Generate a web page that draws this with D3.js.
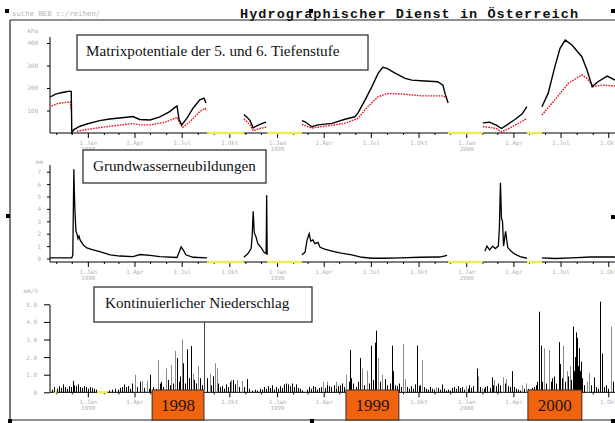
<!DOCTYPE html>
<html>
<head>
<meta charset="utf-8">
<script src="https://cdn.jsdelivr.net/npm/d3@7"></script>
<style>
  body { margin: 0; background: #fff; }
  svg { display: block; }
</style>
</head>
<body>
<svg id="chart" width="615" height="423"></svg>
<script>
// ---- time axis ticks --------------------------------------------------------
const quarterTicks = ["1998-01-01","1998-04-01","1998-07-01","1998-10-01",
                      "1999-01-01","1999-04-01","1999-07-01","1999-10-01",
                      "2000-01-01","2000-04-01","2000-07-01","2000-10-01"];
const quarterLabels = ["1.Jan","1.Apr","1.Jul","1.Okt"];
const monthTicks = ["1997-11-01","1997-12-01","1998-02-01","1998-03-01","1998-05-01","1998-06-01",
                    "1998-08-01","1998-09-01","1998-11-01","1998-12-01","1999-02-01","1999-03-01",
                    "1999-05-01","1999-06-01","1999-08-01","1999-09-01","1999-11-01","1999-12-01",
                    "2000-02-01","2000-03-01","2000-05-01","2000-06-01","2000-08-01","2000-09-01"];

// ---- Matrixpotential (kPa), 5. and 6. Tiefenstufe; null = no record -------
const suction5 = [
  ["1997-10-20",160],["1997-10-30",172],["1997-11-08",178],["1997-11-18",182],["1997-11-27",186],["1997-11-30",184],
  ["1997-12-01",2],["1997-12-05",15],["1997-12-17",30],["1997-12-30",40],["1998-01-24",55],["1998-02-12",62],
  ["1998-03-17",70],["1998-03-29",73],["1998-04-11",60],["1998-05-01",58],["1998-05-20",72],["1998-06-08",95],
  ["1998-06-18",114],["1998-06-22",120],["1998-06-26",60],["1998-07-01",36],["1998-07-11",65],["1998-07-23",110],
  ["1998-08-05",147],["1998-08-13",155],["1998-08-17",133],
  ["1998-09-01",null],
  ["1998-10-29",82],["1998-11-04",70],["1998-11-10",55],["1998-11-16",22],["1998-11-21",30],["1998-11-29",38],
  ["1998-12-05",44],["1998-12-11",48],
  ["1999-01-01",null],
  ["1999-02-18",55],["1999-02-24",50],["1999-03-09",28],["1999-03-21",36],["1999-04-17",43],["1999-05-12",61],
  ["1999-05-31",72],["1999-06-06",88],["1999-06-20",147],["1999-07-03",206],["1999-07-15",265],["1999-07-24",292],
  ["1999-08-01",287],["1999-08-16",267],["1999-09-05",243],["1999-09-18",235],["1999-10-13",231],["1999-11-07",228],
  ["1999-11-17",213],["1999-11-21",176],["1999-11-27",133],
  ["2000-01-01",null],
  ["2000-02-02",45],["2000-02-15",48],["2000-02-28",35],["2000-03-09",20],["2000-03-19",35],["2000-04-04",60],
  ["2000-04-18",85],["2000-04-27",117],
  ["2000-05-10",null],
  ["2000-05-26",117],["2000-06-07",176],["2000-06-20",295],["2000-06-30",376],["2000-07-10",413],["2000-07-23",391],
  ["2000-08-11",339],["2000-08-21",280],["2000-08-31",206],["2000-09-11",228],["2000-09-29",253],["2000-10-14",235]
];
const suction6 = [
  ["1997-10-23",120],["1997-11-05",132],["1997-11-28",138],["1997-11-30",100],
  ["1997-12-05",null],
  ["1997-12-11",8],["1998-01-05",18],["1998-02-12",30],["1998-03-29",42],["1998-04-11",36],["1998-05-01",36],
  ["1998-05-30",48],["1998-06-14",62],["1998-06-22",70],["1998-06-28",40],["1998-07-03",25],["1998-07-17",50],
  ["1998-08-05",95],["1998-08-15",110],["1998-08-19",100],
  ["1998-09-01",null],
  ["1998-10-29",62],["1998-11-04",50],["1998-11-10",35],["1998-11-16",10],["1998-11-21",14],["1998-11-29",20],
  ["1998-12-11",26],
  ["1999-01-01",null],
  ["1999-02-18",38],["1999-03-09",22],["1999-04-03",30],["1999-05-12",43],["1999-06-06",65],["1999-06-25",117],
  ["1999-07-15",161],["1999-08-03",176],["1999-09-05",172],["1999-10-07",165],["1999-11-15",165],["1999-11-21",161],
  ["2000-01-01",null],
  ["2000-02-02",28],["2000-02-15",25],["2000-02-28",20],["2000-03-09",5],["2000-03-19",15],["2000-04-04",35],
  ["2000-04-18",52],["2000-04-27",65],
  ["2000-05-10",null],
  ["2000-05-26",80],["2000-06-20",147],["2000-07-16",221],["2000-08-11",258],["2000-08-21",243],["2000-09-02",206],
  ["2000-09-19",213],["2000-10-14",209]
];

// ---- Grundwasserneubildung (mm) --------------------------------------------
const recharge = [
  ["1997-10-20",0.05],["1997-12-01",0.05],["1997-12-03",0.3],["1997-12-05",7.2],["1997-12-06",5.3],["1997-12-07",4.0],
  ["1997-12-09",2.2],["1997-12-11",2.0],["1997-12-13",1.6],["1997-12-15",1.8],["1997-12-17",1.5],["1997-12-23",1.1],
  ["1997-12-30",0.85],["1998-01-11",0.7],["1998-01-24",0.55],["1998-02-13",0.3],["1998-03-04",0.2],["1998-03-29",0.15],
  ["1998-04-12",0.32],["1998-05-01",0.25],["1998-05-20",0.15],["1998-06-22",0.08],["1998-06-26",0.5],["1998-06-30",0.93],
  ["1998-07-04",0.7],["1998-07-09",0.3],["1998-07-23",0.1],["1998-08-19",0.05],
  ["1998-09-01",null],
  ["1998-10-29",0.1],["1998-11-06",0.4],["1998-11-12",0.8],["1998-11-14",1.8],["1998-11-16",3.8],["1998-11-18",2.1],
  ["1998-11-21",1.8],["1998-11-25",1.2],["1998-12-01",0.9],["1998-12-07",0.5],["1998-12-11",0.4],["1998-12-12",5.1],
  ["1998-12-13",0.3],
  ["1999-01-01",null],
  ["1999-02-18",0.3],["1999-02-24",0.5],["1999-02-28",1.5],["1999-03-04",2.0],["1999-03-07",1.4],["1999-03-11",1.5],
  ["1999-03-15",1.2],["1999-03-21",1.3],["1999-03-25",0.9],["1999-04-03",0.75],["1999-04-17",0.6],["1999-05-02",0.45],
  ["1999-05-25",0.3],["1999-06-14",0.1],["1999-07-03",0.02],["1999-07-28",0.02],["1999-08-26",0.05],["1999-10-04",0.1],
  ["1999-11-11",0.12],["1999-11-25",0.25],
  ["2000-01-01",null],
  ["2000-02-06",0.6],["2000-02-10",1.0],["2000-02-15",0.7],["2000-02-21",1.0],["2000-02-26",0.8],["2000-03-03",1.0],
  ["2000-03-05",2.5],["2000-03-07",6.1],["2000-03-09",3.2],["2000-03-11",3.0],["2000-03-13",1.0],["2000-03-17",2.2],
  ["2000-03-21",0.9],["2000-03-27",0.6],["2000-04-04",0.35],["2000-04-14",0.15],["2000-04-27",0.02],
  ["2000-05-10",null],
  ["2000-05-26",0.05],["2000-06-20",0],["2000-07-23",0.05],["2000-08-27",0.12],["2000-10-14",0.12]
];

// ---- Kontinuierlicher Niederschlag (mm/h) ----------------------------------
const rainBlack = [
  ["1997-10-24",0.15],["1997-10-28",0.3],["1997-11-02",0.2],["1997-11-06",0.35],["1997-11-10",0.25],["1997-11-14",0.45],
  ["1997-11-18",0.3],["1997-11-22",0.2],["1997-11-26",0.35],["1997-11-29",0.3],["1997-12-03",0.65],["1997-12-05",0.4],
  ["1997-12-09",0.35],["1997-12-13",0.45],["1997-12-17",0.3],["1997-12-21",0.25],["1997-12-25",0.35],["1997-12-28",0.3],
  ["1998-01-01",0.2],["1998-01-05",0.3],["1998-01-09",0.25],["1998-01-13",0.2],["1998-01-17",0.15],
  ["1998-02-11",0.1],["1998-02-17",0.15],["1998-02-22",0.2],["1998-02-28",0.15],["1998-03-04",0.25],["1998-03-08",0.3],
  ["1998-03-12",0.45],["1998-03-16",0.3],["1998-03-19",0.35],["1998-03-23",0.2],["1998-03-27",0.5],["1998-04-06",0.3],
  ["1998-04-12",0.6],["1998-04-19",0.25],["1998-04-29",0.2],["1998-05-01",1.0],["1998-05-07",0.3],["1998-05-12",0.2],
  ["1998-05-20",0.5],["1998-05-22",0.6],["1998-05-26",0.3],["1998-06-05",0.7],["1998-06-08",0.4],["1998-06-14",0.5],
  ["1998-06-22",1.95],["1998-06-26",0.6],["1998-06-28",0.9],["1998-07-03",1.65],["1998-07-07",0.5],["1998-07-11",2.44],
  ["1998-07-15",0.8],["1998-07-19",2.63],["1998-07-25",0.7],["1998-07-29",0.5],["1998-08-05",0.8],["1998-08-09",0.4],
  ["1998-08-19",0.8],["1998-08-27",0.4],["1998-08-30",0.9],["1998-09-09",0.5],["1998-09-13",0.3],["1998-09-17",0.35],
  ["1998-09-21",0.2],["1998-09-24",0.45],["1998-09-28",0.3],["1998-10-02",0.6],["1998-10-08",0.7],["1998-10-12",0.45],
  ["1998-10-19",0.3],["1998-10-29",0.3],["1998-11-04",0.75],["1998-11-08",0.2],["1998-11-14",0.1],["1998-11-19",0.15],
  ["1998-11-23",0.1],["1998-11-29",0.2],["1998-12-03",0.15],["1998-12-07",0.3],["1998-12-11",0.2],["1998-12-15",0.35],
  ["1998-12-18",0.25],["1998-12-22",0.4],["1998-12-26",0.15],["1998-12-30",0.3],["1999-01-03",0.2],["1999-01-07",0.35],
  ["1999-01-10",0.25],["1999-01-14",0.45],["1999-01-18",0.5],["1999-01-22",0.45],["1999-01-26",0.35],["1999-01-30",0.5],
  ["1999-02-03",0.3],["1999-02-06",0.45],["1999-02-10",0.25],["1999-02-14",0.2],["1999-02-18",0.1],
  ["1999-02-28",0.15],["1999-03-04",0.3],["1999-03-07",0.2],["1999-03-11",0.35],["1999-03-15",0.3],["1999-03-19",0.15],
  ["1999-03-23",0.25],["1999-03-27",0.3],["1999-04-03",0.25],["1999-04-07",0.4],["1999-04-12",0.35],["1999-04-16",0.3],
  ["1999-04-20",0.4],["1999-04-24",0.2],["1999-04-29",0.35],["1999-05-03",0.4],["1999-05-07",0.5],["1999-05-11",0.3],
  ["1999-05-19",0.6],["1999-05-22",2.4],["1999-05-24",0.8],["1999-05-28",0.5],["1999-06-02",0.3],["1999-06-06",0.6],
  ["1999-06-10",1.95],["1999-06-18",0.4],["1999-06-27",0.5],["1999-07-01",2.65],["1999-07-05",0.7],["1999-07-09",2.82],
  ["1999-07-11",3.5],["1999-07-18",0.6],["1999-07-28",0.75],["1999-08-01",0.4],["1999-08-06",0.5],["1999-08-10",2.65],
  ["1999-08-12",1.2],["1999-08-16",0.4],["1999-08-20",0.35],["1999-08-24",0.5],["1999-08-28",0.3],["1999-09-09",0.3],
  ["1999-09-13",0.2],["1999-09-16",0.35],["1999-09-20",0.2],["1999-09-24",0.45],["1999-09-28",2.65],["1999-10-02",0.35],
  ["1999-10-04",0.4],["1999-10-12",0.3],["1999-10-16",0.2],["1999-10-19",0.15],["1999-10-23",0.3],["1999-10-27",0.2],
  ["1999-10-31",0.15],["1999-11-07",0.25],["1999-11-11",0.15],["1999-11-15",0.45],["1999-11-19",0.2],["1999-11-23",0.1],
  ["1999-11-27",0.15],["1999-12-01",0.1],["1999-12-04",0.25],["1999-12-08",0.3],["1999-12-12",0.2],["1999-12-16",0.35],
  ["1999-12-20",0.25],["1999-12-24",0.3],["1999-12-28",0.15],["2000-01-04",0.2],["2000-01-07",0.4],["2000-01-11",0.25],
  ["2000-01-15",0.35],["2000-01-21",1.35],["2000-01-27",0.3],["2000-02-04",0.2],["2000-02-07",0.3],["2000-02-11",0.35],
  ["2000-02-15",0.25],["2000-02-19",0.85],["2000-02-22",0.4],["2000-02-28",0.35],["2000-03-03",0.5],["2000-03-07",0.4],
  ["2000-03-15",0.5],["2000-03-21",0.35],["2000-03-25",0.3],["2000-03-29",1.2],["2000-04-02",0.3],["2000-04-06",0.2],
  ["2000-04-10",0.15],["2000-04-14",0.1],["2000-04-22",0.2],["2000-04-29",0.2],["2000-05-03",0.15],["2000-05-07",0.25],
  ["2000-05-11",0.3],["2000-05-15",0.4],["2000-05-16",0.6],["2000-05-20",4.58],["2000-05-24",2.65],["2000-05-26",0.6],
  ["2000-06-03",0.5],["2000-06-13",0.6],["2000-06-14",0.8],["2000-06-18",0.9],["2000-06-22",0.5],["2000-06-28",2.85],
  ["2000-06-30",1.6],["2000-07-04",0.8],["2000-07-10",0.6],["2000-07-16",0.9],["2000-07-21",0.7],["2000-07-25",3.73],
  ["2000-07-27",1.2],["2000-07-29",2.0],["2000-07-31",3.4],["2000-08-02",3.1],["2000-08-04",1.5],["2000-08-06",2.5],
  ["2000-08-07",1.2],["2000-08-09",1.75],["2000-08-11",0.8],["2000-08-15",0.4],["2000-08-29",0.4],["2000-09-04",0.85],
  ["2000-09-07",0.3],["2000-09-11",0.2],["2000-09-15",5.15],["2000-09-19",2.2],["2000-09-23",0.3],["2000-09-26",0.4],
  ["2000-09-30",0.2],["2000-10-10",0.6]
];
const rainGray = [
  ["1998-04-02",1.0],["1998-04-15",0.65],["1998-04-25",0.65],["1998-05-16",1.85],["1998-06-01",1.36],["1998-06-10",1.55],
  ["1998-06-18",2.35],["1998-07-02",3.0],["1998-07-23",1.05],["1998-08-01",1.5],["1998-08-25",1.05],["1998-09-03",1.65],
  ["1998-09-07",1.36],["1998-10-04",0.7],["1998-10-16",0.7],["1998-10-25",0.65],["1999-03-31",0.6],["1999-04-08",0.6],
  ["1999-04-25",0.6],["1999-05-15",1.0],["1999-06-14",1.36],["1999-06-24",1.23],["1999-07-15",1.95],["1999-07-22",1.0],
  ["1999-09-01",2.75],["1999-09-05",0.75],["1999-10-08",1.85],["1999-11-04",0.3],["1999-12-31",0.35],["2000-01-23",0.9],
  ["2000-01-31",0.25],["2000-02-24",0.7],["2000-03-11",0.85],["2000-03-17",0.75],["2000-04-18",0.4],["2000-04-25",0.5],
  ["2000-05-30",2.5],["2000-06-09",2.4],["2000-07-06",2.65],["2000-07-14",1.2],["2000-07-19",1.5],["2000-08-21",0.6],
  ["2000-08-25",1.1],["2000-10-06",3.73]
];

// ---- periods without record (marked yellow on the time axis) ---------------
const soilGaps = [["1998-08-19","1998-10-29"],["1998-12-13","1999-02-18"],["1999-11-27","2000-02-02"],["2000-04-27","2000-05-26"]];
const rainGaps = [["1997-10-27","1997-11-02"],["1998-01-19","1998-02-08"]];

// ---- summer periods highlighted below the precipitation axis --------------
const yearNames = ["1998","1999","2000"];
const yearSpans = [["1998-05-05","1998-08-13"],["1999-05-14","1999-08-24"],["2000-04-29","2000-08-11"]];

// ---- tick values of the value axes -----------------------------------------
const suctionTicks = [100,200,300,400];
const rechargeTicks = [0,1,2,3,4,5,6,7];
const rainTicks = [0,1,2,3,4,5];

// ============================================================================
const parse = d3.timeParse("%Y-%m-%d");
const svg = d3.select("#chart");
const tickGray = "#b3b3b3";
const monoFont = "'DejaVu Sans Mono', 'Liberation Mono', monospace";
const serifFont = "'Liberation Serif', 'DejaVu Serif', serif";

const x = d3.scaleTime()
  .domain([parse("1997-10-20"), parse("2000-10-14")])
  .range([50, 615]);

const ySuction = d3.scaleLinear().domain([0, 400]).range([133, 43]);
const yRecharge = d3.scaleLinear().domain([0, 7]).range([258.5, 171.7]);
const yRain = d3.scaleLinear().domain([0, 5]).range([392.3, 304.3]);

const toPts = arr => arr.map(d => [parse(d[0]), d[1]]);
const spanPx = yearSpans.map(s => [x(parse(s[0])), x(parse(s[1]))]);

// ---- page frame and header --------------------------------------------------
const frame = svg.append("g");
frame.append("line").attr("x1", 10).attr("x2", 615).attr("y1", 20).attr("y2", 20)
  .attr("stroke", "#222").attr("stroke-width", 1.2);
frame.append("line").attr("x1", 10).attr("x2", 10).attr("y1", 20).attr("y2", 420)
  .attr("stroke", "#222").attr("stroke-width", 1.2);
frame.append("line").attr("x1", 10).attr("x2", 615).attr("y1", 420).attr("y2", 420)
  .attr("stroke", "#222").attr("stroke-width", 1.2);

svg.append("text").attr("x", 12).attr("y", 16)
  .attr("font-family", monoFont).attr("font-size", 7)
  .attr("textLength", 88).attr("lengthAdjust", "spacingAndGlyphs")
  .attr("fill", "#b5b5b5").text("suche NEB c:/reihen/");

svg.append("text").attr("x", 240).attr("y", 17.5)
  .attr("font-family", "'Liberation Mono', 'DejaVu Sans Mono', monospace")
  .attr("font-weight", "bold").attr("font-size", 13.5)
  .attr("textLength", 338).attr("lengthAdjust", "spacing")
  .attr("fill", "#111").text("Hydrographischer Dienst in Österreich");

// ---- time axis helper -------------------------------------------------------
function timeAxis(yPos, gaps, hideUnderBoxes) {
  const g = svg.append("g").attr("transform", `translate(0,${yPos})`);
  g.append("line").attr("x1", 50).attr("x2", 615).attr("y1", 0).attr("y2", 0)
    .attr("stroke", "#000").attr("stroke-width", 1);
  const minor = g.append("g").call(d3.axisBottom(x)
    .tickValues(monthTicks.map(parse)).tickSize(2).tickSizeOuter(0).tickFormat(""));
  minor.select(".domain").remove();
  minor.selectAll(".tick line").attr("stroke", "#000");
  const major = g.append("g").call(d3.axisBottom(x)
    .tickValues(quarterTicks.map(parse)).tickSize(5).tickSizeOuter(0).tickFormat(""));
  major.select(".domain").remove();
  major.selectAll(".tick line").attr("stroke", "#000");
  major.selectAll(".tick").each(function (d, i) {
    const px = x(d);
    // labels lying beneath a summer box are covered by it
    if (hideUnderBoxes && spanPx.some(s => px > s[0] - 12 && px < s[1] + 12)) return;
    d3.select(this).append("text")
      .attr("y", 11.5).attr("text-anchor", "middle")
      .attr("font-family", monoFont).attr("font-size", 5.8).attr("fill", tickGray)
      .text(quarterLabels[i % 4]);
    if (i % 4 === 0) {
      d3.select(this).append("text")
        .attr("y", 18.2).attr("text-anchor", "middle")
        .attr("font-family", monoFont).attr("font-size", 5.8).attr("fill", tickGray)
        .text(d.getFullYear());
    }
  });
  g.selectAll(".gap").data(gaps).join("line").attr("class", "gap")
    .attr("x1", d => x(parse(d[0]))).attr("x2", d => x(parse(d[1])))
    .attr("y1", 0).attr("y2", 0)
    .attr("stroke", "#eded5a").attr("stroke-width", 2.5);
  return g;
}

function valueAxis(scale, ticks, top, bottom, tickLen, pad, fmt, unit, unitX, unitY) {
  const g = svg.append("g").attr("transform", "translate(50,0)");
  g.append("line").attr("x1", 0).attr("x2", 0).attr("y1", top).attr("y2", bottom)
    .attr("stroke", "#000").attr("stroke-width", 1);
  const ax = g.append("g").call(d3.axisLeft(scale).tickValues(ticks)
    .tickSize(tickLen).tickPadding(pad).tickSizeOuter(0).tickFormat(fmt));
  ax.select(".domain").remove();
  ax.selectAll(".tick line").attr("stroke", "#000");
  ax.selectAll(".tick text").attr("font-family", monoFont).attr("font-size", 6)
    .attr("fill", tickGray);
  svg.append("text").attr("x", unitX).attr("y", unitY).attr("text-anchor", "end")
    .attr("font-family", monoFont).attr("font-size", 6).attr("fill", tickGray).text(unit);
}

// ---- panel 1: Matrixpotentiale ---------------------------------------------
valueAxis(ySuction, suctionTicks, 37, 133, 3, 9, d3.format("d"), "kPa", 38, 33);
timeAxis(133, soilGaps, false);

const lineSuction = d3.line()
  .defined(d => d[1] !== null)
  .x(d => x(d[0])).y(d => ySuction(d[1]));

svg.append("path").datum(toPts(suction6))
  .attr("d", lineSuction).attr("fill", "none")
  .attr("stroke", "#e3141e").attr("stroke-width", 1.4)
  .attr("stroke-dasharray", "1.6,1.1");
svg.append("path").datum(toPts(suction5))
  .attr("d", lineSuction).attr("fill", "none")
  .attr("stroke", "#000").attr("stroke-width", 1.4);

// ---- panel 2: Grundwasserneubildungen --------------------------------------
valueAxis(yRecharge, rechargeTicks, 165, 262, 3, 6, d3.format("d"), "mm", 43, 164);
timeAxis(262, soilGaps, false);

const lineRecharge = d3.line()
  .defined(d => d[1] !== null)
  .x(d => x(d[0])).y(d => yRecharge(d[1]));
svg.append("path").datum(toPts(recharge))
  .attr("d", lineRecharge).attr("fill", "none")
  .attr("stroke", "#000").attr("stroke-width", 1.3);

// ---- panel 3: Kontinuierlicher Niederschlag --------------------------------
valueAxis(yRain, rainTicks, 305, 392.3, 6, 7, d => d === 0 ? "0" : d3.format(".1f")(d), "mm/h", 38, 293);
timeAxis(392.3, rainGaps, true);

function rainBars(data, colour) {
  svg.append("g").selectAll("line").data(toPts(data)).join("line")
    .attr("x1", d => Math.round(x(d[0])) + 0.5).attr("x2", d => Math.round(x(d[0])) + 0.5)
    .attr("y1", yRain(0)).attr("y2", d => yRain(d[1]))
    .attr("stroke", colour).attr("stroke-width", 1);
}
rainBars(rainGray, "#8a8a8a");
rainBars(rainBlack, "#000");

// ---- annotation boxes -------------------------------------------------------
function labelBox(x0, y0, x1, y1, tx, ty, text) {
  svg.append("rect").attr("x", x0).attr("y", y0).attr("width", x1 - x0).attr("height", y1 - y0)
    .attr("fill", "#fff").attr("stroke", "#333").attr("stroke-width", 1.3);
  svg.append("text").attr("x", tx).attr("y", ty)
    .attr("font-family", serifFont).attr("font-size", 15.2).attr("fill", "#111").text(text);
}
labelBox(77, 35, 368, 70, 86, 56, "Matrixpotentiale der 5. und 6. Tiefenstufe");
labelBox(83, 150, 266, 183, 93, 171, "Grundwasserneubildungen");
labelBox(94, 287, 312, 322, 105, 308, "Kontinuierlicher Niederschlag");

// connector from the precipitation label to the 1998 period box
const connX = Math.round(spanPx[0][1]) + 0.5;
svg.append("line").attr("x1", connX).attr("x2", connX).attr("y1", 322).attr("y2", 390)
  .attr("stroke", "#444").attr("stroke-width", 1);

// summer period boxes
const yearG = svg.append("g");
yearG.selectAll("rect").data(spanPx).join("rect")
  .attr("x", d => d[0]).attr("y", 390)
  .attr("width", d => d[1] - d[0]).attr("height", 30)
  .attr("fill", "#f0640f").attr("stroke", "#3a2a22").attr("stroke-width", 1);
yearG.selectAll("text").data(spanPx).join("text")
  .attr("x", d => (d[0] + d[1]) / 2).attr("y", 411)
  .attr("text-anchor", "middle")
  .attr("font-family", serifFont).attr("font-size", 17).attr("fill", "#2a1408")
  .text((d, i) => yearNames[i]);

// ---- selection handles of the embedded graphic ------------------------------
const handles = [[7, 11], [311, 11], [613, 11], [8, 216], [613, 217], [10, 421], [312, 421], [613, 421]];
svg.append("g").selectAll("rect").data(handles).join("rect")
  .attr("x", d => d[0] - 2).attr("y", d => d[1] - 2).attr("width", 4).attr("height", 4)
  .attr("fill", "#000");
</script>
</body>
</html>
